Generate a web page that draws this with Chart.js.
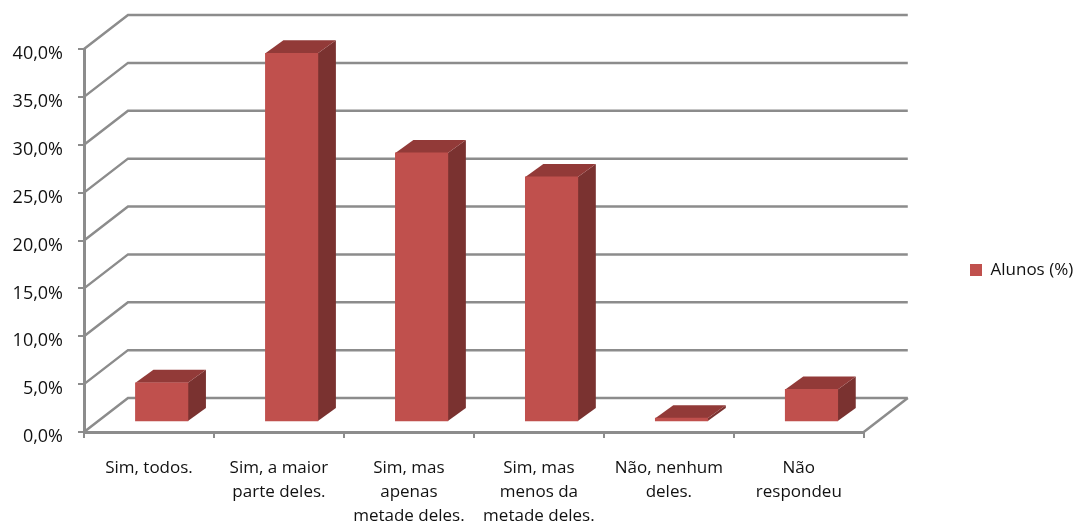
<!DOCTYPE html>
<html>
<head>
<meta charset="utf-8">
<title>Alunos (%)</title>
<script src="https://cdn.jsdelivr.net/npm/chart.js@4"></script>
<style>
    html, body { margin: 0; padding: 0; background: #fff; }
    canvas { display: block; }
</style>
</head>
<body>
<canvas id="chart" width="1073" height="524"></canvas>
<script>
const categories = [
    ['Sim, todos.'],
    ['Sim, a maior', 'parte deles.'],
    ['Sim, mas', 'apenas', 'metade deles.'],
    ['Sim, mas', 'menos da', 'metade deles.'],
    ['Não, nenhum', 'deles.'],
    ['Não', 'respondeu']
];
const alunos = [4.1, 38.5, 28.1, 25.6, 0.4, 3.4];
const seriesName = 'Alunos (%)';

const GRID_COLOR = '#8c8c8c';
const TEXT_COLOR = '#111111';
const FONT = { family: '"Open Sans"', size: 17 };

// 3D look: back wall offset, bars sit part way into the floor
const WALL_DX = 44, WALL_DY = 34;
const BAR_DX = 12.7, BAR_DY = 10;
const DEPTH_DX = 18, DEPTH_DY = 13;

const wallPlugin = {
    id: 'wall',
    afterLayout(chart) {
        // legend sits further right and lower than chart.js would put it
        const legend = chart.legend;
        const shiftX = 956 - legend.left;
        const shiftY = 270 - (legend.top + legend.bottom) / 2;
        legend.left += shiftX;
        legend.right += shiftX;
        legend.top += shiftY;
        legend.bottom += shiftY;
    },
    beforeDatasetsDraw(chart) {
        const { ctx, chartArea, scales } = chart;
        const left = chartArea.left, right = chartArea.right;
        ctx.save();
        ctx.strokeStyle = GRID_COLOR;
        ctx.lineWidth = 2.5;
        scales.y.ticks.forEach(tick => {
            const y = scales.y.getPixelForValue(tick.value);
            ctx.beginPath();
            ctx.moveTo(left, y);
            ctx.lineTo(left + WALL_DX, y - WALL_DY);
            ctx.lineTo(right + WALL_DX, y - WALL_DY);
            ctx.stroke();
        });
        // right edge of the floor
        const floor = scales.y.getPixelForValue(0);
        ctx.beginPath();
        ctx.moveTo(right, floor);
        ctx.lineTo(right + WALL_DX, floor - WALL_DY);
        ctx.stroke();
        ctx.restore();
    },
    beforeDatasetDraw(chart, args) {
        const ctx = chart.ctx;
        ctx.save();
        ctx.translate(BAR_DX, -BAR_DY);
        args.meta.data.forEach(bar => {
            const { x, y, base, width } = bar.getProps(['x', 'y', 'base', 'width'], true);
            const l = x - width / 2, r = x + width / 2;
            ctx.fillStyle = '#7a3230';
            ctx.beginPath();
            ctx.moveTo(r, y);
            ctx.lineTo(r + DEPTH_DX, y - DEPTH_DY);
            ctx.lineTo(r + DEPTH_DX, base - DEPTH_DY);
            ctx.lineTo(r, base);
            ctx.closePath();
            ctx.fill();
            ctx.fillStyle = '#923a38';
            ctx.beginPath();
            ctx.moveTo(l, y);
            ctx.lineTo(l + DEPTH_DX, y - DEPTH_DY);
            ctx.lineTo(r + DEPTH_DX, y - DEPTH_DY);
            ctx.lineTo(r, y);
            ctx.closePath();
            ctx.fill();
        });
    },
    afterDatasetDraw(chart) {
        chart.ctx.restore();
    }
};

new Chart(document.getElementById('chart').getContext('2d'), {
    type: 'bar',
    data: {
        labels: categories,
        datasets: [{
            label: seriesName,
            data: alunos,
            backgroundColor: '#c0504d',
            barThickness: 52.5,
            clip: false
        }]
    },
    options: {
        responsive: false,
        animation: false,
        layout: { padding: { top: 49, right: 82, left: 0, bottom: 0 } },
        plugins: {
            legend: {
                position: 'right',
                labels: {
                    boxWidth: 12,
                    boxHeight: 12,
                    padding: 14,
                    color: TEXT_COLOR,
                    font: FONT
                }
            },
            tooltip: { enabled: false }
        },
        scales: {
            x: {
                afterFit(scale) { scale.height = 92; },
                grid: { drawOnChartArea: false, drawTicks: true, tickLength: 6, color: GRID_COLOR, lineWidth: 2 },
                border: { color: GRID_COLOR, width: 3 },
                ticks: { autoSkip: false, maxRotation: 0, padding: 18, color: TEXT_COLOR, font: { ...FONT, lineHeight: 1.41 } }
            },
            y: {
                min: 0,
                max: 40,
                afterFit(scale) { scale.width = 84; },
                afterUpdate(scale) {
                    // tick labels sit a little below their gridline in the original
                    const drawLabels = scale.drawLabels;
                    scale.drawLabels = function (area) {
                        scale.ctx.save();
                        scale.ctx.translate(0, 2.5);
                        drawLabels.call(scale, area);
                        scale.ctx.restore();
                    };
                },
                grid: { drawOnChartArea: false, drawTicks: true, tickLength: 6, color: GRID_COLOR, lineWidth: 2 },
                border: { color: GRID_COLOR, width: 3 },
                ticks: {
                    stepSize: 5,
                    padding: 15,
                    color: TEXT_COLOR,
                    font: { ...FONT, size: 18 },
                    callback: value => value.toFixed(1).replace('.', ',') + '%'
                }
            }
        }
    },
    plugins: [wallPlugin]
});
</script>
</body>
</html>
